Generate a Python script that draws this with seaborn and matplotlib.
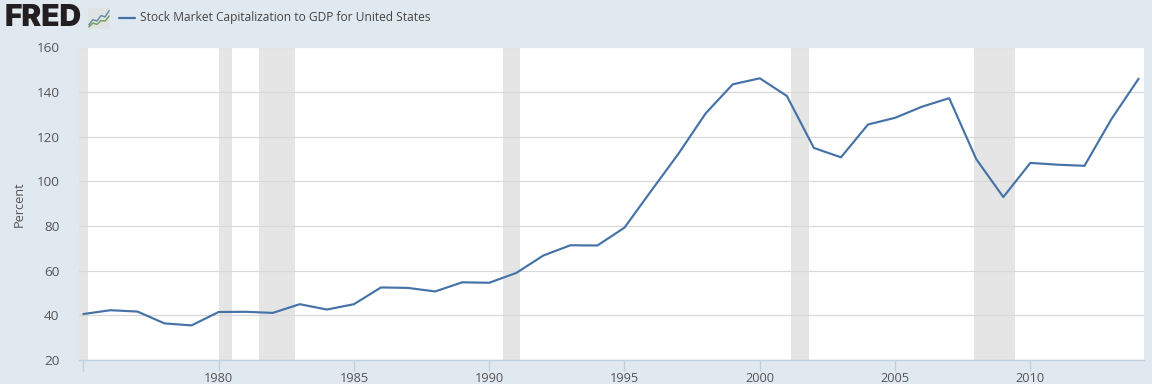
import matplotlib
matplotlib.use("Agg")
import matplotlib.pyplot as plt
import seaborn as sns
import pandas as pd

years = list(range(1975, 2015))
values = [40.6, 42.3, 41.7, 36.4, 35.5, 41.5, 41.6, 41.1, 45.0, 42.6,
          45.0, 52.5, 52.3, 50.7, 54.8, 54.6, 59.0, 66.8, 71.4, 71.3,
          79.3, 96.0, 112.5, 130.5, 143.5, 146.2, 138.3, 115.0, 110.8, 125.5,
          128.5, 133.5, 137.3, 110.0, 93.0, 108.3, 107.5, 107.0, 128.0, 146.0]
recessions = [(1973.9, 1975.17), (1980.0, 1980.5), (1981.5, 1982.83),
              (1990.5, 1991.15), (2001.17, 2001.83), (2007.92, 2009.42)]
x_ticks = [1975, 1980, 1985, 1990, 1995, 2000, 2005, 2010]
x_labels = ["", "1980", "1985", "1990", "1995", "2000", "2005", "2010"]
y_ticks = [20, 40, 60, 80, 100, 120, 140, 160]
title = "Stock Market Capitalization to GDP for United States"
icon_a = [1, 2.2, 1.9, 3.2, 2.9, 4.4]
icon_b = [0.5, 1.4, 1.1, 2.0, 1.9, 3.1]

BG = "#e1e9f0"
LINE = "#4572a7"
TXT = "#555555"

sns.set_theme(style="white")
plt.rcParams["font.family"] = ["Open Sans", "DejaVu Sans"]

W, H = 1152, 384
fig = plt.figure(figsize=(W / 100, H / 100), dpi=100, facecolor=BG)
L, R, T, B = 79, 1144, 47.5, 360
ax = fig.add_axes([L / W, 1 - B / H, (R - L) / W, (B - T) / H], facecolor="white")

df = pd.DataFrame({"year": years, "value": values})
for a, b in recessions:
    ax.axvspan(a, b, color="#e5e5e5", lw=0, zorder=1)
ax.set_yticks(y_ticks)
ax.grid(axis="y", color="#d8d8d8", lw=0.85, zorder=2)
ax.set_axisbelow(False)
sns.lineplot(data=df, x="year", y="value", color=LINE, lw=1.55, ax=ax, zorder=3)
ax.set_xlim(1974.84, 2014.2)
ax.set_ylim(20, 160)
ax.set_xticks(x_ticks)
ax.set_xticklabels(x_labels)
ax.set_xlabel("")
ax.set_ylabel("Percent", fontsize=9.2, color=TXT, labelpad=8)
ax.tick_params(axis="y", length=0, labelsize=9.7, labelcolor=TXT, pad=14)
ax.tick_params(axis="x", bottom=True, length=8, width=0.9, color="#c0d0e0", labelsize=9.2, labelcolor=TXT, pad=1)
for s in ["left", "right", "top"]:
    ax.spines[s].set_visible(False)
ax.spines["bottom"].set_color("#c0d0e0")
ax.spines["bottom"].set_linewidth(1)

fig.text(5 / W, 1 - 18.5 / H, "FRED", fontsize=21.5, fontweight=900, family=["Inter", "Liberation Sans"],
         color="#231f20", va="center", ha="left")
fig.add_artist(plt.Line2D([119 / W, 135 / W], [1 - 17.5 / H] * 2, color=LINE, lw=1.6))
fig.text(140 / W, 1 - 17.5 / H, title, fontsize=8.65, color="#444444", va="center", ha="left")

icon = fig.add_axes([88 / W, 1 - 29 / H, 22 / W, 21 / H], facecolor="#dfe3e4")
icon.plot(icon_a, color="#5f86aa", lw=1.0)
icon.plot(icon_b, color="#6f9a4f", lw=1.0)
icon.set_xlim(-0.2, 5.2)
icon.set_ylim(0, 5)
icon.set_xticks([])
icon.set_yticks([])
for s in icon.spines.values():
    s.set_visible(False)

fig.savefig("out.png", dpi=100, facecolor=BG)
